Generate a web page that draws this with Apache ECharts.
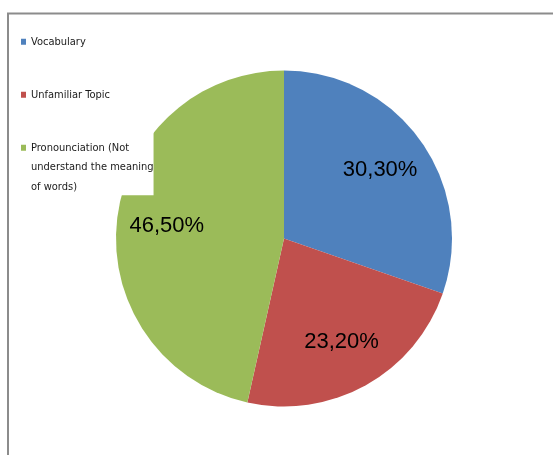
<!DOCTYPE html>
<html>
<head>
<meta charset="utf-8">
<script src="https://cdn.jsdelivr.net/npm/echarts@6/dist/echarts.min.js"></script>
<style>
  html, body { margin: 0; padding: 0; background: #fff; }
  #chart { width: 553px; height: 455px; }
</style>
</head>
<body>
<div id="chart"></div>
<script>
const categories = ['Vocabulary', 'Unfamiliar Topic', 'Pronounciation (Not understand the meaning of words)'];
const legendLabels = ['Vocabulary', 'Unfamiliar Topic', 'Pronounciation (Not\nunderstand the meaning\nof words)'];
const values = [30.3, 23.2, 46.5];
const colors = ['#4f81bd', '#c0504d', '#9bbb59'];

const legendFont = "'Liberation Sans Narrow', 'DejaVu Sans Condensed', sans-serif";
const lineH = 19.5;

const chart = echarts.init(document.getElementById('chart'), null, { renderer: 'canvas' });
const pieData = categories.map((c, i) => ({ name: c, value: values[i], itemStyle: { color: colors[i] } }));

chart.setOption({
  animation: false,
  backgroundColor: '#fff',
  graphic: [{
    type: 'rect', z: 0, silent: true,
    shape: { x: 8, y: 13.5, width: 700, height: 600 },
    style: { fill: 'none', stroke: '#8c8c8c', lineWidth: 2 }
  }],
  legend: {
    orient: 'vertical',
    left: 9, top: 15,
    padding: [17, 0, 3, 12],
    backgroundColor: '#fff',
    itemWidth: 5, itemHeight: 6,
    itemGap: 53 - lineH,
    icon: 'rect',
    selectedMode: false,
    formatter: name => legendLabels[categories.indexOf(name)],
    textStyle: {
      fontFamily: legendFont, fontSize: 11, color: '#1a1a1a',
      lineHeight: lineH
    },
    data: [
      { name: categories[0] },
      { name: categories[1] },
      { name: categories[2], textStyle: { padding: [0, 0, -2 * lineH, 0], rich: { x: {} } } }
    ]
  },
  series: [
    {
      type: 'pie',
      center: [284, 238.5],
      radius: 168,
      startAngle: 90,
      clockwise: true,
      label: { show: false },
      labelLine: { show: false },
      data: pieData
    },
    {
      type: 'pie',
      center: [284, 238.5],
      radius: 230,
      startAngle: 90,
      clockwise: true,
      silent: true,
      z: 3,
      itemStyle: { color: 'rgba(0,0,0,0)' },
      label: {
        show: true, position: 'inside',
        fontFamily: "'Liberation Sans', Arial, sans-serif",
        fontSize: 22, color: '#000',
        formatter: p => p.value.toFixed(2).replace('.', ',') + '%'
      },
      labelLine: { show: false },
      data: categories.map((c, i) => ({ name: c, value: values[i] }))
    }
  ]
});
</script>
</body>
</html>
